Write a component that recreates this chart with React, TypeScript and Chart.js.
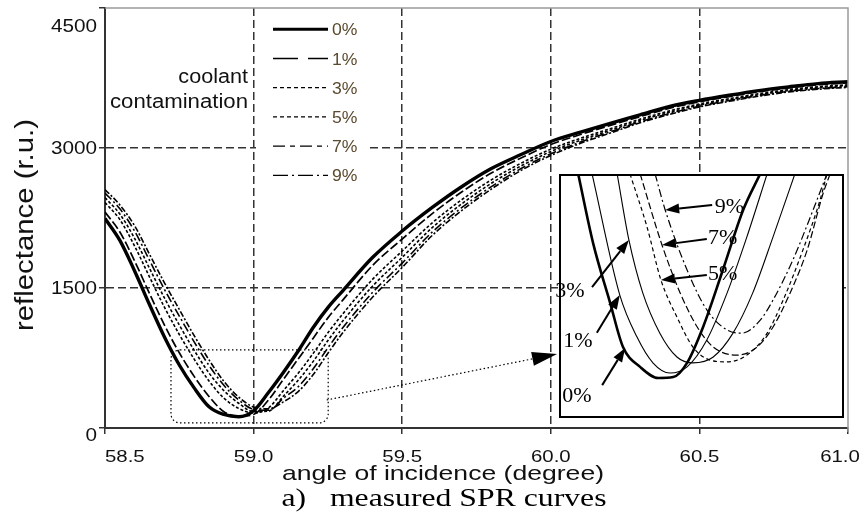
import React, { useEffect, useRef } from 'react';
import { Chart, registerables } from 'chart.js';

Chart.register(...registerables);

// ---------- main chart data ----------
const angles = [58.5, 58.55, 58.6, 58.65, 58.7, 58.75, 58.8, 58.85, 58.9, 58.95, 59.0, 59.05, 59.1, 59.15, 59.2, 59.25, 59.3, 59.4, 59.5, 59.6, 59.7, 59.8, 59.9, 60.0, 60.1, 60.2, 60.3, 60.4, 60.5, 60.6, 60.7, 60.8, 60.9, 61.0];
const refl0 = [2245, 2010, 1680, 1320, 975, 675, 430, 228, 145, 120, 185, 380, 595, 825, 1075, 1290, 1470, 1826, 2110, 2360, 2585, 2780, 2930, 3070, 3170, 3265, 3355, 3445, 3510, 3565, 3615, 3655, 3690, 3710];
const refl1 = [2313, 2100, 1787, 1439, 1103, 806, 553, 338, 175, 128, 145, 300, 520, 740, 960, 1180, 1370, 1740, 2025, 2294, 2529, 2732, 2893, 3037, 3144, 3242, 3336, 3426, 3495, 3551, 3602, 3643, 3677, 3697];
const refl3 = [2416, 2233, 1947, 1617, 1294, 1002, 738, 504, 320, 210, 160, 215, 400, 586, 797, 1020, 1222, 1592, 1896, 2195, 2445, 2659, 2837, 2988, 3104, 3207, 3308, 3398, 3472, 3529, 3582, 3625, 3657, 3677];
const refl5 = [2468, 2292, 2029, 1709, 1393, 1103, 833, 589, 401, 265, 175, 180, 340, 512, 711, 937, 1146, 1519, 1829, 2144, 2401, 2622, 2808, 2962, 3084, 3189, 3294, 3384, 3460, 3518, 3572, 3615, 3647, 3667];
const refl7 = [2518, 2348, 2107, 1795, 1485, 1199, 923, 670, 457, 300, 200, 190, 318, 442, 631, 859, 1074, 1451, 1767, 2096, 2361, 2586, 2780, 2938, 3064, 3173, 3280, 3370, 3448, 3508, 3562, 3607, 3637, 3657];
const refl9 = [2555, 2390, 2165, 1860, 1555, 1270, 990, 730, 500, 330, 225, 205, 280, 390, 570, 800, 1020, 1400, 1720, 2060, 2330, 2560, 2760, 2920, 3050, 3160, 3270, 3360, 3440, 3500, 3555, 3600, 3630, 3650];
const seriesLabels = ['0%', '1%', '3%', '5%', '7%', '9%'];
const seriesValues = [refl0, refl1, refl3, refl5, refl7, refl9];

const yTickValues = [0, 1500, 3000, 4500];
const yTickLabels = ['0', '1500', '3000', '4500'];
const xTickValues = [58.5, 59.0, 59.5, 60.0, 60.5, 61.0];
const xTickLabels = ['58.5', '59.0', '59.5', '60.0', '60.5', '61.0'];

// zoom window marked in the main plot and the pointer to the inset
const zoomBoxX = [58.722, 59.251];
const zoomBoxY = [54, 836];
const pointerFrom = [59.246, 300];
const pointerTo = [60.021, 793];

// ---------- inset data ----------
const inset0X = [58.754, 58.782, 58.814, 58.838, 58.870, 58.904, 58.932, 58.958, 58.988, 59.025, 59.063, 59.095];
const inset0Y = [840, 616, 422, 280, 216, 180, 183, 229, 345, 529, 723, 840];
const inset1X = [58.780, 58.832, 58.864, 58.894, 58.926, 58.958, 58.995, 59.033, 59.070, 59.108];
const inset1Y = [840, 448, 313, 229, 196, 216, 303, 455, 636, 840];
const inset3X = [58.827, 58.849, 58.875, 58.907, 58.939, 58.969, 59.007, 59.044, 59.081, 59.119, 59.160];
const inset3Y = [840, 626, 455, 325, 248, 229, 248, 325, 455, 636, 840];
const inset5X = [58.851, 58.883, 58.909, 58.939, 58.969, 59.001, 59.033, 59.070, 59.108, 59.138, 59.175, 59.207, 59.220];
const inset5Y = [840, 668, 497, 377, 280, 238, 232, 254, 325, 432, 594, 755, 840];
const inset7X = [58.870, 58.911, 58.945, 58.977, 59.007, 59.051, 59.089, 59.119, 59.151, 59.183, 59.213, 59.226];
const inset7Y = [840, 610, 455, 345, 280, 254, 280, 345, 455, 594, 778, 840];
const inset9X = [58.898, 58.917, 58.958, 58.995, 59.033, 59.061, 59.095, 59.119, 59.156, 59.194, 59.220];
const inset9Y = [840, 723, 529, 400, 335, 325, 367, 432, 561, 723, 840];
const insetXs = [inset0X, inset1X, inset3X, inset5X, inset7X, inset9X];
const insetYs = [inset0Y, inset1Y, inset3Y, inset5Y, inset7Y, inset9Y];

const arrowLabels = ['9%', '7%', '5%', '3%', '1%', '0%'];
const arrowTipX = [58.917, 58.911, 58.909, 58.849, 58.832, 58.842];
const arrowTipY = [723, 610, 497, 626, 448, 277];
const arrowTailX = [59.005, 58.995, 58.995, 58.780, 58.789, 58.799];
const arrowTailY = [739, 629, 513, 474, 326, 157];
const arrowLabelX = [59.010, 58.997, 58.997, 58.711, 58.726, 58.724];
const arrowLabelY = [730, 629, 513, 458, 296, 119];

// ---------- styles ----------
const SANS = '"Liberation Sans", Arial, Helvetica, sans-serif';
const SERIF = '"Liberation Serif", "Times New Roman", Times, serif';
const mainWidths = [3.4, 1.7, 1.6, 1.6, 1.6, 1.6];
const mainDashes = [[], [9, 3], [3, 2], [3, 2], [9, 3, 2, 3], [6, 2, 2, 2]];
const legendWidths = [3, 1.3, 1.3, 1.3, 1.3, 1.3];
const legendDashes = [[], [25, 10], [4, 3], [4, 3], [12, 5, 5, 5], [15, 4, 2, 4]];
const insetWidths = [2.6, 1.1, 1.1, 1.2, 1.2, 1.2];
const insetDashes = [[], [], [], [4, 3], [7, 3], [8, 3, 2, 3]];

function sText(ctx: CanvasRenderingContext2D, text: string, x: number, y: number, font: string, align: CanvasTextAlign, sx: number, color = '#111', baseline: CanvasTextBaseline = 'alphabetic', targetW?: number) {
  ctx.save();
  ctx.font = font;
  ctx.fillStyle = color;
  ctx.textAlign = align;
  ctx.textBaseline = baseline;
  const w = ctx.measureText(text).width;
  const s = targetW ? targetW / w : sx;
  ctx.translate(x, y);
  ctx.scale(s, 1);
  ctx.fillText(text, 0, 0);
  ctx.restore();
}

function arrowHead(ctx: CanvasRenderingContext2D, x1: number, y1: number, x2: number, y2: number, len: number, hw: number) {
  const dx = x2 - x1, dy = y2 - y1;
  const d = Math.hypot(dx, dy) || 1;
  const ux = dx / d, uy = dy / d;
  const bx = x2 - ux * len, by = y2 - uy * len;
  ctx.beginPath();
  ctx.moveTo(x2, y2);
  ctx.lineTo(bx - uy * hw, by + ux * hw);
  ctx.lineTo(bx + uy * hw, by - ux * hw);
  ctx.closePath();
  ctx.fill();
  return [bx, by];
}

const mainDecor = {
  id: 'mainDecor',
  afterDraw(chart: any) {
    const { ctx, chartArea: ca } = chart;
    const xs = chart.scales.x, ys = chart.scales.y;
    ctx.save();
    // top & right frame (grey)
    ctx.strokeStyle = '#9a9a9a';
    ctx.lineWidth = 1.5;
    ctx.beginPath();
    ctx.moveTo(ca.left, ca.top);
    ctx.lineTo(ca.right, ca.top);
    ctx.lineTo(ca.right, ca.bottom + 4);
    ctx.stroke();

    // legend background + legend
    ctx.fillStyle = '#fff';
    ctx.fillRect(ca.left + 151, ca.top + 4, 112, 180);
    const lx0 = ca.left + 168, lx1 = ca.left + 223;
    for (let i = 0; i < seriesLabels.length; i++) {
      const ly = ca.top + 21.3 + i * 29.2;
      ctx.save();
      ctx.strokeStyle = '#000';
      ctx.lineWidth = legendWidths[i];
      ctx.setLineDash(legendDashes[i]);
      ctx.beginPath();
      ctx.moveTo(lx0, ly);
      ctx.lineTo(lx1, ly);
      ctx.stroke();
      ctx.restore();
      sText(ctx, seriesLabels[i], lx1 + 4, ly + 6, `16px ${SANS}`, 'left', 1.1, '#5a4a2e');
    }
    sText(ctx, 'coolant', ca.left + 143, 83, `20px ${SANS}`, 'right', 1.08);
    sText(ctx, 'contamination', ca.left + 143, 108, `20px ${SANS}`, 'right', 1, '#111', 'alphabetic', 138);

    // dotted zoom box
    const bx0 = xs.getPixelForValue(zoomBoxX[0]), bx1 = xs.getPixelForValue(zoomBoxX[1]);
    const by0 = ys.getPixelForValue(zoomBoxY[1]), by1 = ys.getPixelForValue(zoomBoxY[0]);
    const r = 9;
    ctx.strokeStyle = '#000';
    ctx.lineWidth = 1.2;
    ctx.setLineDash([1.5, 2.5]);
    ctx.beginPath();
    ctx.moveTo(bx0 + r, by0);
    ctx.lineTo(bx1 - r, by0);
    ctx.arcTo(bx1, by0, bx1, by0 + r, r);
    ctx.lineTo(bx1, by1 - r);
    ctx.arcTo(bx1, by1, bx1 - r, by1, r);
    ctx.lineTo(bx0 + r, by1);
    ctx.arcTo(bx0, by1, bx0, by1 - r, r);
    ctx.lineTo(bx0, by0 + r);
    ctx.arcTo(bx0, by0, bx0 + r, by0, r);
    ctx.stroke();

    // dotted pointer to inset
    const px0 = xs.getPixelForValue(pointerFrom[0]), py0 = ys.getPixelForValue(pointerFrom[1]);
    const px1 = xs.getPixelForValue(pointerTo[0]), py1 = ys.getPixelForValue(pointerTo[1]);
    ctx.setLineDash([]);
    ctx.fillStyle = '#000';
    const [hbx, hby] = arrowHead(ctx, px0, py0, px1, py1, 25, 7);
    ctx.setLineDash([1.5, 2.5]);
    ctx.beginPath();
    ctx.moveTo(px0, py0);
    ctx.lineTo(hbx, hby);
    ctx.stroke();
    ctx.setLineDash([]);

    // tick labels
    const tickFont = `17px ${SANS}`;
    for (let i = 0; i < yTickValues.length; i++) {
      const py = ys.getPixelForValue(yTickValues[i]);
      let off = 6;
      if (yTickValues[i] === 0) off = 13;
      if (i === yTickValues.length - 1) off = 24;
      sText(ctx, yTickLabels[i], ca.left - 8, py + off, `18px ${SANS}`, 'right', 1.15);
    }
    for (let i = 0; i < xTickValues.length; i++) {
      const px = xs.getPixelForValue(xTickValues[i]);
      if (i === 0) sText(ctx, xTickLabels[i], px, ca.bottom + 34, tickFont, 'left', 1.2);
      else if (i === xTickValues.length - 1) sText(ctx, xTickLabels[i], px - 8, ca.bottom + 34, tickFont, 'center', 1.2);
      else sText(ctx, xTickLabels[i], px, ca.bottom + 34, tickFont, 'center', 1.2);
    }
    // axis titles
    sText(ctx, 'angle of incidence (degree)', 443, ca.bottom + 52, `21px ${SANS}`, 'center', 1, '#111', 'alphabetic', 322);
    ctx.save();
    ctx.translate(33, 225);
    ctx.rotate(-Math.PI / 2);
    sText(ctx, 'reflectance (r.u.)', 0, 0, `25px ${SANS}`, 'center', 1, '#111', 'alphabetic', 212);
    ctx.restore();
    // caption
    sText(ctx, 'a)   measured SPR curves', 444, 506, `25px ${SERIF}`, 'center', 1, '#000', 'alphabetic', 325);
    ctx.restore();
  },
};

const insetDecor = {
  id: 'insetDecor',
  beforeDatasetsDraw(chart: any) {
    const { ctx, chartArea: ca } = chart;
    ctx.save();
    ctx.fillStyle = '#fff';
    ctx.fillRect(ca.left, ca.top, ca.right - ca.left, ca.bottom - ca.top);
    ctx.restore();
  },
  afterDatasetsDraw(chart: any) {
    const { ctx, chartArea: ca } = chart;
    const xs = chart.scales.x, ys = chart.scales.y;
    ctx.save();
    ctx.strokeStyle = '#000';
    ctx.fillStyle = '#000';
    ctx.lineWidth = 2;
    ctx.strokeRect(ca.left, ca.top, ca.right - ca.left, ca.bottom - ca.top);
    for (let i = 0; i < arrowLabels.length; i++) {
      const tx = xs.getPixelForValue(arrowTipX[i]), ty = ys.getPixelForValue(arrowTipY[i]);
      const sx = xs.getPixelForValue(arrowTailX[i]), sy = ys.getPixelForValue(arrowTailY[i]);
      const [bx, by] = arrowHead(ctx, sx, sy, tx, ty, 14, 5);
      ctx.lineWidth = 2;
      ctx.beginPath();
      ctx.moveTo(sx, sy);
      ctx.lineTo(bx, by);
      ctx.stroke();
      sText(ctx, arrowLabels[i], xs.getPixelForValue(arrowLabelX[i]), ys.getPixelForValue(arrowLabelY[i]), `20px ${SERIF}`, 'left', 1.1, '#000', 'middle');
    }
    ctx.restore();
  },
};

export default function App() {
  const mainRef = useRef<HTMLCanvasElement>(null);
  const insetRef = useRef<HTMLCanvasElement>(null);

  useEffect(() => {
    document.body.style.margin = '0';
    const edgeX = (v: number) => Math.abs(v - 58.5) < 1e-6 || Math.abs(v - 61) < 1e-6;
    const edgeY = (v: number) => Math.abs(v) < 1e-6 || Math.abs(v - 4500) < 1e-6;

    const main = new Chart(mainRef.current as HTMLCanvasElement, {
      type: 'line',
      data: {
        datasets: seriesLabels.map((lab, i) => ({
          label: lab,
          data: angles.map((a, j) => ({ x: a, y: seriesValues[i][j] })),
          borderColor: '#000',
          borderWidth: mainWidths[i],
          borderDash: mainDashes[i],
          pointRadius: 0,
          fill: false,
          cubicInterpolationMode: 'monotone' as const,
        })).reverse(),
      },
      options: {
        responsive: false,
        animation: false,
        devicePixelRatio: 1,
        layout: { padding: { left: 99, top: 8, right: 17, bottom: 82 } },
        plugins: { legend: { display: false }, tooltip: { enabled: false }, title: { display: false } },
        scales: {
          x: {
            type: 'linear', min: 58.5, max: 61,
            ticks: { display: false, stepSize: 0.5 },
            grid: {
              color: (c: any) => (c.tick && edgeX(c.tick.value) ? 'rgba(0,0,0,0)' : '#333'),
              lineWidth: 1.5, drawTicks: true, tickLength: 6, tickColor: '#333', tickWidth: 1.5,
            },
            border: { display: true, color: '#333', width: 2, dash: [8, 4] },
          },
          y: {
            type: 'linear', min: 0, max: 4500,
            ticks: { display: false, stepSize: 1500 },
            grid: {
              color: (c: any) => (c.tick && edgeY(c.tick.value) ? 'rgba(0,0,0,0)' : '#333'),
              lineWidth: 1.5, drawTicks: true, tickLength: 6, tickColor: '#333', tickWidth: 1.5,
            },
            border: { display: true, color: '#333', width: 2, dash: [8, 4] },
          },
        },
      },
      plugins: [mainDecor],
    } as any);

    const inset = new Chart(insetRef.current as HTMLCanvasElement, {
      type: 'line',
      data: {
        datasets: seriesLabels.map((lab, i) => ({
          label: lab,
          data: insetXs[i].map((xv, j) => ({ x: xv, y: insetYs[i][j] })),
          borderColor: '#000',
          borderWidth: insetWidths[i],
          borderDash: insetDashes[i],
          pointRadius: 0,
          fill: false,
          cubicInterpolationMode: 'monotone' as const,
        })),
      },
      options: {
        responsive: false,
        animation: false,
        devicePixelRatio: 1,
        layout: { padding: { left: 15, top: 10, right: 12, bottom: 8 } },
        plugins: { legend: { display: false }, tooltip: { enabled: false } },
        scales: {
          x: { type: 'linear', min: 58.72, max: 59.25, display: false },
          y: { type: 'linear', min: 54, max: 836, display: false },
        },
      },
      plugins: [insetDecor],
    } as any);

    let alive = true;
    const fonts: any = (document as any).fonts;
    if (fonts && fonts.load) {
      Promise.all([
        fonts.load('20px "Liberation Sans"'),
        fonts.load('20px "Liberation Serif"'),
      ]).then(() => {
        if (alive) {
          main.update();
          inset.update();
        }
      }).catch(() => {});
    }

    return () => {
      alive = false;
      main.destroy();
      inset.destroy();
    };
  }, []);

  return (
    <div style={{ position: 'relative', width: 865, height: 516, background: '#fff' }}>
      <span style={{ position: 'absolute', left: -9999, fontFamily: '"Liberation Sans"' }}>a</span>
      <span style={{ position: 'absolute', left: -9999, fontFamily: '"Liberation Serif"' }}>a</span>
      <canvas ref={mainRef} width={865} height={516} style={{ position: 'absolute', left: 0, top: 0, width: 865, height: 516 }} />
      <canvas ref={insetRef} width={310} height={260} style={{ position: 'absolute', left: 545, top: 165, width: 310, height: 260 }} />
    </div>
  );
}
